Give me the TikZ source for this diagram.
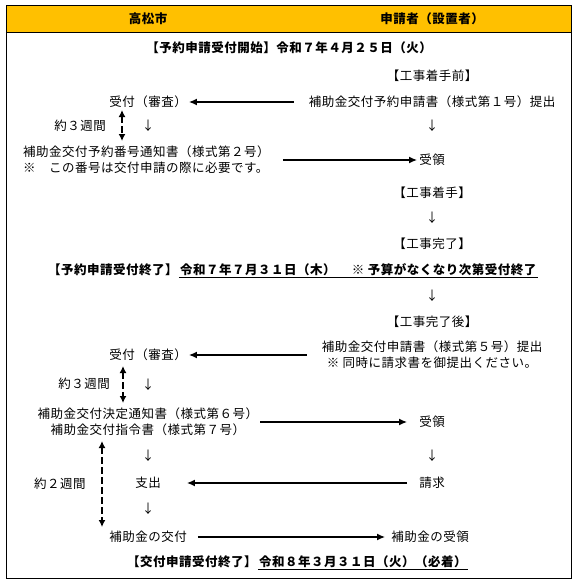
\documentclass[tikz,border=0pt]{standalone}
\usepackage{fontspec}
\newfontfamily\jp[LetterSpace=4]{Noto Sans CJK JP}
\usetikzlibrary{positioning,arrows.meta}
\definecolor{band}{HTML}{FFC000}
\tikzset{>={Latex[length=8pt,width=7pt]}, % filled arrow heads
x=1pt, y=-1pt, % one unit is one pixel of the reference, y grows downwards
every node/.style={font=\jp\fontsize{12.5pt}{16pt}\selectfont, inner sep=1pt}, % all text
hd/.style={font=\jp\bfseries\fontsize{12.5pt}{16pt}\selectfont}, % bold lines
flow/.style={->, line width=1.4pt}, % hand-over arrows
span/.style={{Latex[length=7pt,width=7pt]}-{Latex[length=7pt,width=7pt]}, line width=1.6pt, dash pattern=on 7pt off 3pt}, % waiting time
}
\begin{document}
\begin{tikzpicture}
\useasboundingbox (0,0) rectangle (577,584);
\draw[line width=1pt, fill=band] (6,5) rectangle (571,32);
\draw[line width=1pt] (6,5) rectangle (571,578);

\node[hd] (city) at (148,19) {高松市};
\node[hd] (appl) at (432,19) {申請者（設置者）};
\node[hd] (open) at (289,48) {【予約申請受付開始】令和７年４月２５日（火）};

\node (pre) at (432,76) {【工事着手前】};
\node (res1) at (432,102) {補助金交付予約申請書（様式第１号）提出};
\node (rcv1) at (148,102) {受付（審査）};
\node (wk1) at (80,126) {約３週間};
\node (dl1) at (148,126) {↓};
\node (dr1) at (432,126) {↓};
\node[anchor=west, align=left] (ntc1) at (22,160) {補助金交付予約番号通知書（様式第２号）\\※　この番号は交付申請の際に必要です。};
\node (get1) at (432,160) {受領};

\node (start) at (432,193) {【工事着手】};
\node (dr2) at (432,218) {↓};
\node (done) at (432,244) {【工事完了】};

\node[hd, anchor=west] (end1) at (47,270) {【予約申請受付終了】};
\node[hd, right=0pt of end1] (end1b) {令和７年７月３１日（木）　 ※ 予算がなくなり次第受付終了};
\node (dr3) at (432,296) {↓};

\node (post) at (432,322) {【工事完了後】};
\node[align=center] (res2) at (432,355) {補助金交付申請書（様式第５号）提出\\※ 同時に請求書を御提出ください。};
\node (rcv2) at (148,355) {受付（審査）};
\node (wk2) at (84,384) {約３週間};
\node (dl2) at (148,385) {↓};
\node[align=center] (dec) at (148,422) {補助金交付決定通知書（様式第６号）\\補助金交付指令書（様式第７号）};
\node (get2) at (432,422) {受領};

\node (dl3) at (148,456) {↓};
\node (dr4) at (432,456) {↓};
\node (wk3) at (60,484) {約２週間};
\node (pay) at (148,483) {支出};
\node (req) at (432,483) {請求};
\node (dl4) at (148,509) {↓};
\node (give) at (148,537) {補助金の交付};
\node (get3) at (430,537) {補助金の受領};

\node[hd, anchor=west] (end2) at (126,562) {【交付申請受付終了】};
\node[hd, right=0pt of end2] (end2b) {令和８年３月３１日（火）（必着）};

\coordinate (s1a) at (122,110);
\coordinate (s1b) at (122,141);
\coordinate (s2a) at (123,366);
\coordinate (s2b) at (123,403);
\coordinate (s3a) at (102,441);
\coordinate (s3b) at (102,527);

\draw
(res1) edge[flow, shorten <=14pt, shorten >=1pt] (rcv1)
(ntc1) edge[flow, shorten <=12pt, shorten >=1pt] (get1)
(res2) edge[flow, shorten <=14pt, shorten >=1pt] (rcv2)
(dec) edge[flow, shorten <=1pt, shorten >=11pt] (get2)
(req) edge[flow, shorten <=11pt, shorten >=25pt] (pay)
(give) edge[flow, shorten <=10pt, shorten >=5pt] (get3)
(s1a) edge[span] (s1b)
(s2a) edge[span] (s2b)
(s3a) edge[span] (s3b);

\draw[line width=0.8pt] (end1b.south west) -- (end1b.south east);
\draw[line width=0.8pt] (end2b.south west) -- (end2b.south east);
\end{tikzpicture}
\end{document}
